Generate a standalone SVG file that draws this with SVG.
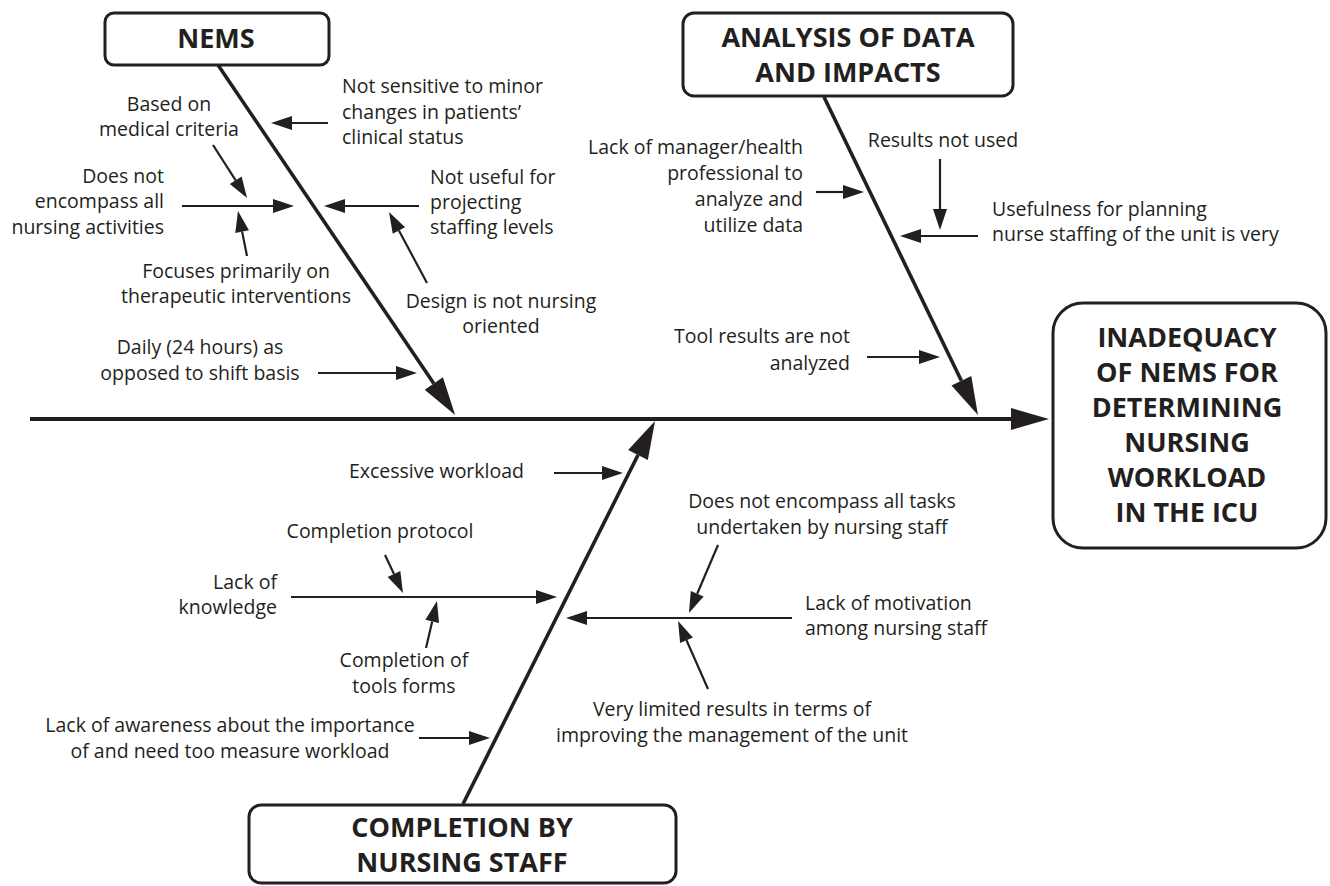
<svg xmlns="http://www.w3.org/2000/svg" width="1330" height="886" viewBox="0 0 1330 886">
<defs>
<style>
.t{font-family:"Open Sans","Noto Sans",sans-serif;font-size:19.5px;fill:#231f20}
.m{text-anchor:middle}
.e{text-anchor:end}
.h{font-family:"Open Sans","Noto Sans",sans-serif;font-weight:bold;font-size:27px;fill:#231f20;text-anchor:middle}
.box{fill:#fff;stroke:#231f20;stroke-width:3}
.a{stroke:#231f20;stroke-width:2.2;fill:none;marker-end:url(#ah)}
.b{stroke:#231f20;stroke-width:3.6;fill:none;marker-end:url(#ahb)}
</style>
<marker id="ah" markerUnits="userSpaceOnUse" markerWidth="22" markerHeight="14" refX="0" refY="7" orient="auto" overflow="visible"><path d="M0,0 L21,7 L0,14 z" fill="#231f20"/></marker>
<marker id="ahb" markerUnits="userSpaceOnUse" markerWidth="40" markerHeight="22" refX="0" refY="11" orient="auto" overflow="visible"><path d="M0,0 L38,11 L0,22 z" fill="#231f20"/></marker>
</defs>
<rect width="1330" height="886" fill="#fff"/>
<g id="connectors">
<line class="b" x1="30" y1="419" x2="1011" y2="419" style="stroke-width:4"/>
<line class="b" x1="218" y1="65" x2="433.8" y2="383.5"/>
<line class="b" x1="824" y1="97" x2="961.4" y2="380.8"/>
<line class="b" x1="463" y1="804" x2="638" y2="455"/>
<line class="a" x1="328" y1="123" x2="292" y2="123"/>
<line class="a" x1="213" y1="145" x2="235.7" y2="180.3"/>
<line class="a" x1="182" y1="206" x2="273" y2="206"/>
<line class="a" x1="247" y1="256" x2="242.1" y2="231.6"/>
<line class="a" x1="419" y1="206" x2="345" y2="206"/>
<line class="a" x1="427" y1="283" x2="398.9" y2="230.5"/>
<line class="a" x1="318" y1="373" x2="396" y2="373"/>
<line class="a" x1="816" y1="192" x2="843" y2="192"/>
<line class="a" x1="940" y1="159" x2="940" y2="209"/>
<line class="a" x1="978" y1="236" x2="921" y2="236"/>
<line class="a" x1="867" y1="357" x2="919" y2="357"/>
<line class="a" x1="554" y1="473" x2="602" y2="473"/>
<line class="a" x1="385" y1="555" x2="394" y2="574"/>
<line class="a" x1="291" y1="597" x2="536" y2="597"/>
<line class="a" x1="426" y1="648" x2="432.2" y2="621.4"/>
<line class="a" x1="419" y1="738" x2="469" y2="738"/>
<line class="a" x1="718" y1="545" x2="697.2" y2="593.7"/>
<line class="a" x1="792" y1="618" x2="587" y2="618"/>
<line class="a" x1="708" y1="689" x2="686.5" y2="640.2"/>
</g>
<g id="nems">
<rect class="box" x="105" y="13" width="224" height="52" rx="9"/>
<text class="h" x="216" y="48">NEMS</text>
</g>
<g id="analysis">
<rect class="box" x="683" y="13" width="330" height="83" rx="11"/>
<text class="h" x="848" y="47">ANALYSIS OF DATA</text>
<text class="h" x="848" y="82">AND IMPACTS</text>
</g>
<g id="effect">
<rect class="box" x="1053" y="303" width="273" height="245" rx="30"/>
<text class="h" x="1187" y="347">INADEQUACY</text>
<text class="h" x="1187" y="382">OF NEMS FOR</text>
<text class="h" x="1187" y="417">DETERMINING</text>
<text class="h" x="1187" y="452">NURSING</text>
<text class="h" x="1187" y="487">WORKLOAD</text>
<text class="h" x="1187" y="522">IN THE ICU</text>
</g>
<g id="completion">
<rect class="box" x="249" y="805" width="427" height="78" rx="12"/>
<text class="h" x="462" y="837">COMPLETION BY</text>
<text class="h" x="462" y="872">NURSING STAFF</text>
</g>
<g id="cause-labels">
<text class="t" x="342" y="93">Not sensitive to minor</text>
<text class="t" x="342" y="119">changes in patients’</text>
<text class="t" x="342" y="144">clinical status</text>
<text class="t m" x="169" y="111">Based on</text>
<text class="t m" x="169" y="136">medical criteria</text>
<text class="t e" x="164" y="183">Does not</text>
<text class="t e" x="164" y="208">encompass all</text>
<text class="t e" x="164" y="234">nursing activities</text>
<text class="t m" x="236" y="278">Focuses primarily on</text>
<text class="t m" x="236" y="303">therapeutic interventions</text>
<text class="t" x="430" y="184">Not useful for</text>
<text class="t" x="430" y="209">projecting</text>
<text class="t" x="430" y="234">staffing levels</text>
<text class="t m" x="501" y="308">Design is not nursing</text>
<text class="t m" x="501" y="333">oriented</text>
<text class="t m" x="200" y="354">Daily (24 hours) as</text>
<text class="t m" x="200" y="380">opposed to shift basis</text>
<text class="t e" x="803" y="154">Lack of manager/health</text>
<text class="t e" x="803" y="180">professional to</text>
<text class="t e" x="803" y="206">analyze and</text>
<text class="t e" x="803" y="232">utilize data</text>
<text class="t m" x="943" y="147">Results not used</text>
<text class="t" x="992" y="216">Usefulness for planning</text>
<text class="t" x="992" y="241">nurse staffing of the unit is very</text>
<text class="t e" x="850" y="343">Tool results are not</text>
<text class="t e" x="850" y="370">analyzed</text>
<text class="t e" x="524" y="478">Excessive workload</text>
<text class="t m" x="380" y="538">Completion protocol</text>
<text class="t e" x="277" y="589">Lack of</text>
<text class="t e" x="277" y="614">knowledge</text>
<text class="t m" x="404" y="667">Completion of</text>
<text class="t m" x="404" y="693">tools forms</text>
<text class="t m" x="230" y="732">Lack of awareness about the importance</text>
<text class="t m" x="230" y="758">of and need too measure workload</text>
<text class="t m" x="822" y="508">Does not encompass all tasks</text>
<text class="t m" x="822" y="534">undertaken by nursing staff</text>
<text class="t" x="805" y="610">Lack of motivation</text>
<text class="t" x="805" y="635">among nursing staff</text>
<text class="t m" x="732" y="716">Very limited results in terms of</text>
<text class="t m" x="732" y="742">improving the management of the unit</text>
</g>
</svg>
